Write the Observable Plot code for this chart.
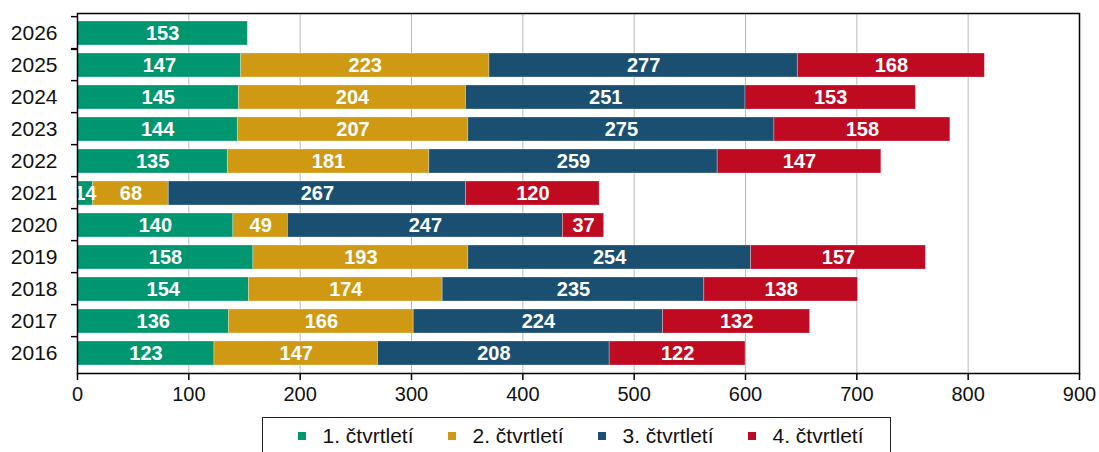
<!DOCTYPE html>
<html><head><meta charset="utf-8">
<script src="https://cdn.jsdelivr.net/npm/d3@7"></script>
<script src="https://cdn.jsdelivr.net/npm/@observablehq/plot@0.6"></script>
<style>
body{margin:0;background:#fff;font-family:"Liberation Sans",Arial,sans-serif;}
#chart{position:absolute;left:0;top:0;}
#legend{position:absolute;left:262px;top:417px;width:629px;height:44px;border:1.5px solid #222;box-sizing:border-box;display:flex;flex-wrap:nowrap;align-items:center;align-content:flex-start;padding-top:8px;padding-left:34.5px;font-size:21px;color:#111;line-height:20px;height:60px;}
#legend .it{display:flex;align-items:center;width:150px;flex:0 0 150px;white-space:nowrap;align-self:flex-start;}
#legend .sw{width:8px;height:8px;margin-right:17px;flex:0 0 8px;}
</style></head>
<body>
<div id="chart"></div>
<div id="legend"></div>
<script>
const years = ["2016","2017","2018","2019","2020","2021","2022","2023","2024","2025","2026"];
const quarters = ["1. čtvrtletí","2. čtvrtletí","3. čtvrtletí","4. čtvrtletí"];
const colors = ["#009670","#d09913","#1a4f72","#c00a21"];
const q1 = [123,136,154,158,140,14,135,144,145,147,153];
const q2 = [147,166,174,193,49,68,181,207,204,223,null];
const q3 = [208,224,235,254,247,267,259,275,251,277,null];
const q4 = [122,132,138,157,37,120,147,158,153,168,null];
const xTicks = [0,100,200,300,400,500,600,700,800,900];

const series = [q1,q2,q3,q4];
const data = [];
years.forEach((y,i)=>series.forEach((s,j)=>{ if(s[i]!=null) data.push({year:y,q:quarters[j],value:s[i]}); }));

const yBoundaryTicks = (index, scales, values, dims) => {
  const g = d3.create("svg:g");
  const bw = scales.y.bandwidth ? scales.y.bandwidth() : 0;
  const step = (dims.height - dims.marginTop - dims.marginBottom)/years.length;
  const ys = years.map(y=>scales.y(y) - (step-bw)/2);
  ys.push(ys[ys.length-1]+step);
  for(const y of ys){
    g.append("line").attr("x1",dims.marginLeft-6).attr("x2",dims.marginLeft).attr("y1",y).attr("y2",y).attr("stroke","#000").attr("stroke-width",1.5);
  }
  return g.node();
};

const plot = Plot.plot({
  width:1099, height:412,
  marginTop:13, marginBottom:39, marginLeft:77, marginRight:20,
  style:{fontFamily:"Liberation Sans, Arial, sans-serif", fontSize:"20px", color:"#111", background:"#fff"},
  x:{domain:[0,900], ticks:xTicks, label:null},
  y:{domain:[...years].reverse(), padding:0.235, label:null},
  color:{domain:quarters, range:colors},
  marks:[
    Plot.ruleX(xTicks.filter(d=>d>0&&d<900),{stroke:"#bbb",strokeWidth:1}),
    Plot.barX(data, Plot.stackX({x:"value", y:"year", fill:"q", order:null, stroke:"#fff", strokeOpacity:0.35, strokeWidth:0.8})),
    Plot.text(data, Plot.stackX({x:"value", y:"year", z:"q", order:null, text:d=>String(d.value), fill:"#fff", fontWeight:"bold", fontSize:20})),
    Plot.axisX(xTicks,{tickSize:7, tickPadding:6, stroke:"#000", strokeWidth:1.5, fontSize:20, label:null}),
    Plot.axisY({tickSize:0, tickPadding:20, fontSize:21, label:null}),
    yBoundaryTicks,
    Plot.frame({stroke:"#000", strokeWidth:1.5})
  ]
});
document.getElementById("chart").appendChild(plot);

const leg = document.getElementById("legend");
quarters.forEach((q,i)=>{
  const it=document.createElement("div"); it.className="it";
  const sw=document.createElement("div"); sw.className="sw"; sw.style.background=colors[i];
  const t=document.createElement("span"); t.textContent=q;
  it.appendChild(sw); it.appendChild(t); leg.appendChild(it);
});
</script>
</body></html>
